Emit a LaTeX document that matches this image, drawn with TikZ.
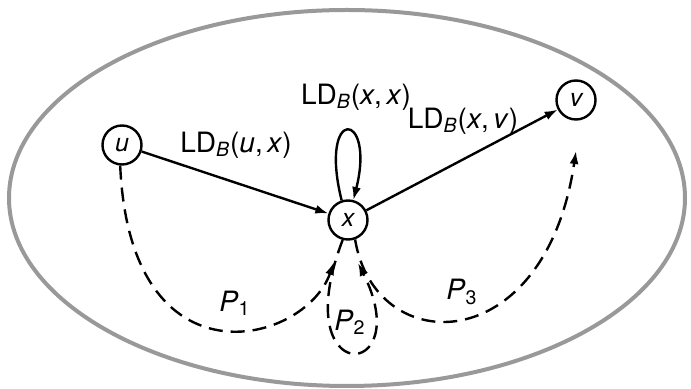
\documentclass[tikz,border=0pt]{standalone}
\usepackage{fontspec}
\setmainfont{TeX Gyre Heros}
\usetikzlibrary{arrows.meta, positioning}

\newcommand{\ldb}[2]{LD\textsubscript{\textit{B}}(\textit{#1},\,\textit{#2})}

\begin{document}
\begin{tikzpicture}[
  x=0.5pt, y=-0.5pt,
  vert/.style={draw, circle, line width=1.2pt, minimum size=19.5pt, inner sep=0pt, font=\fontsize{12.5}{14}\selectfont\itshape},
  lbl/.style={font=\fontsize{14}{16}\selectfont},
  path/.style={dash pattern=on 7pt off 4pt},
  >={Latex[length=6.5pt,width=4.5pt]}, line width=1.2pt
]
\useasboundingbox (0,0) rectangle (691,389);
\draw[gray!80, line width=2pt] (347,198) ellipse [x radius=338, y radius=188];

\node[vert] (u) at (122,145) {u};
\node[vert] (x) at (348,220) {x};
\node[vert] (v) at (576,100) {v};

\coordinate (p1end) at (334,262);
\coordinate (p2end) at (358,263);
\coordinate (p3end) at (576,151);

\draw[->] (u) -- (x);
\draw[->] (x) -- (v);
\draw[->] (x.108) .. controls (318,105) and (376,110) .. (x.75);
\node[lbl] (lux) at (236,145) {\ldb{u}{x}};
\node[lbl] (lxv) at (463,121) {\ldb{x}{v}};
\node[lbl] (lxx) at (356,97) {\ldb{x}{x}};

\draw[path, ->] (u.-95) .. controls (130,390) and (305,345) .. (p1end);
\draw[path, ->] (x.-105) .. controls (285,390) and (418,382) .. (p2end);
\draw[path, ->] (x.-70) .. controls (375,360) and (545,360) .. (p3end);

\node[lbl] (p1) at (235,303) {\textit{P}\textsubscript{1}};
\node[lbl] (p2) at (350,322) {\textit{P}\textsubscript{2}};
\node[lbl] (p3) at (462,292) {\textit{P}\textsubscript{3}};
\end{tikzpicture}
\end{document}
